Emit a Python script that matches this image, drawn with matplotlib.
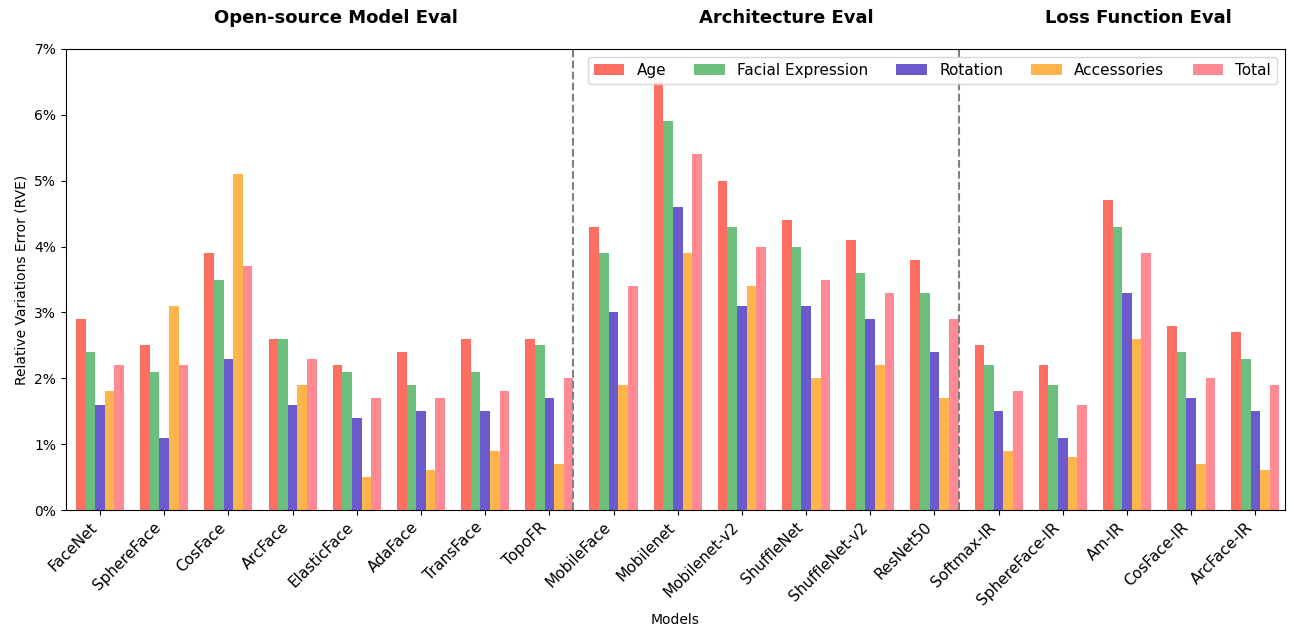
import numpy as np
import matplotlib
matplotlib.use('Agg')
import matplotlib.pyplot as plt
from matplotlib.ticker import PercentFormatter

##------------data-----------------##
models = ['FaceNet', 'SphereFace', 'CosFace', 'ArcFace', 'ElasticFace', 'AdaFace',
          'TransFace', 'TopoFR', 'MobileFace', 'Mobilenet', 'Mobilenet-v2',
          'ShuffleNet', 'ShuffleNet-v2', 'ResNet50', 'Softmax-IR', 'SphereFace-IR',
          'Am-IR', 'CosFace-IR', 'ArcFace-IR']
age = [2.9, 2.5, 3.9, 2.6, 2.2, 2.4, 2.6, 2.6, 4.3, 6.5, 5.0, 4.4, 4.1, 3.8,
       2.5, 2.2, 4.7, 2.8, 2.7]
expression = [2.4, 2.1, 3.5, 2.6, 2.1, 1.9, 2.1, 2.5, 3.9, 5.9, 4.3, 4.0, 3.6, 3.3,
              2.2, 1.9, 4.3, 2.4, 2.3]
rotation = [1.6, 1.1, 2.3, 1.6, 1.4, 1.5, 1.5, 1.7, 3.0, 4.6, 3.1, 3.1, 2.9, 2.4,
            1.5, 1.1, 3.3, 1.7, 1.5]
accessories = [1.8, 3.1, 5.1, 1.9, 0.5, 0.6, 0.9, 0.7, 1.9, 3.9, 3.4, 2.0, 2.2, 1.7,
               0.9, 0.8, 2.6, 0.7, 0.6]
total = [2.2, 2.2, 3.7, 2.3, 1.7, 1.7, 1.8, 2.0, 3.4, 5.4, 4.0, 3.5, 3.3, 2.9,
         1.8, 1.6, 3.9, 2.0, 1.9]

series = [age, expression, rotation, accessories, total]
labels = ['Age', 'Facial Expression', 'Rotation', 'Accessories', 'Total']
colors = ['#FF6F61', '#6DBF7E', '#6A5ACD', '#FFB54C', '#FF8A93']

groups = ['Open-source Model Eval', 'Architecture Eval', 'Loss Function Eval']
group_x = [3.68, 10.69, 16.18]
dividers = [7.375, 13.375]

##------------figure-----------------##
fig = plt.figure(figsize=(12.94, 6.33), dpi=100)
ax = fig.add_axes([0.051, 0.1943, 0.942, 0.7283])

x = np.arange(len(models))
width = 0.15
for i, (vals, lab, col) in enumerate(zip(series, labels, colors)):
    ax.bar(x + (i - 2) * width, vals, width, label=lab, color=col)

# separators between the three evaluation blocks
for d in dividers:
    ax.axvline(d, color='gray', linestyle='--', linewidth=1.5)

for gx, name in zip(group_x, groups):
    ax.text(gx, 1.067, name, transform=ax.get_xaxis_transform(),
            ha='center', va='center', fontsize=13, fontweight='bold')

ax.set_xlim(-0.53, 18.46)
ax.set_ylim(0, 7)
ax.yaxis.set_major_formatter(PercentFormatter(decimals=0))
ax.set_xticks(x)
ax.set_xticklabels(models, rotation=45, ha='right', fontsize=11)
ax.set_xlabel('Models')
ax.set_ylabel('Relative Variations Error (RVE)')
ax.legend(loc='upper right', ncol=5, fontsize=11, columnspacing=1.85)

plt.savefig('out.png', dpi=100)
